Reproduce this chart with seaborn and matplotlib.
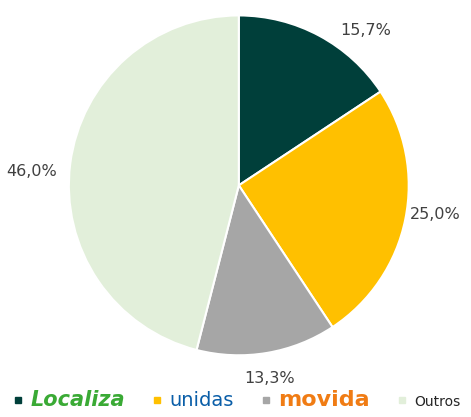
import matplotlib
matplotlib.use("Agg")
import matplotlib.pyplot as plt
import seaborn as sns
from matplotlib.lines import Line2D

sns.set_theme(style="white")
plt.rcParams['font.family'] = ['DejaVu Sans']

# market share
companies = ["Localiza", "unidas", "movida", "Outros"]
shares = [15.7, 25.0, 13.3, 46.0]
share_labels = ["15,7%", "25,0%", "13,3%", "46,0%"]
colors = ["#003f3a", "#ffc000", "#a6a6a6", "#e2efda"]

fig = plt.figure(figsize=(4.71, 4.17), dpi=100)
ax = fig.add_axes([0.146, 0.148, 0.722, 0.815])

wedges, texts = ax.pie(shares, colors=colors, startangle=90, counterclock=False,
                       labels=share_labels, labeldistance=1.15,
                       wedgeprops=dict(edgecolor="white", linewidth=1.5),
                       textprops=dict(color="#404040", fontsize=11.5))
ax.set_xlim(-1, 1)
ax.set_ylim(-1, 1)
ax.set_aspect("equal")

# nudge labels to where the original puts them
nudges = [(0.2, -0.1), (0.03, 0.06), (-0.01, 0.0), (-0.08, -0.06)]
for t, (dx, dy) in zip(texts, nudges):
    t.set_ha("center")
    t.set_va("center")
    x, y = t.get_position()
    t.set_position((x + dx, y + dy))

handles = [Line2D([], [], marker="s", linestyle="none", markersize=4,
                  markerfacecolor=c, markeredgecolor=c) for c in colors]
leg = fig.legend(handles, companies, loc="lower center", ncol=4, frameon=False,
                 bbox_to_anchor=(0.5, -0.015), handletextpad=0.3, columnspacing=1.6,
                 handlelength=1.0)
styles = [
    dict(color="#3aaa35", fontsize=15, fontweight="bold", fontstyle="italic"),
    dict(color="#0a5ea8", fontsize=14),
    dict(color="#f07c14", fontsize=16, fontweight="bold"),
    dict(color="#262626", fontsize=10),
]
for t, s in zip(leg.get_texts(), styles):
    t.set_color(s["color"])
    t.set_fontsize(s["fontsize"])
    t.set_fontweight(s.get("fontweight", "normal"))
    t.set_fontstyle(s.get("fontstyle", "normal"))

fig.savefig("out.png", dpi=100)
